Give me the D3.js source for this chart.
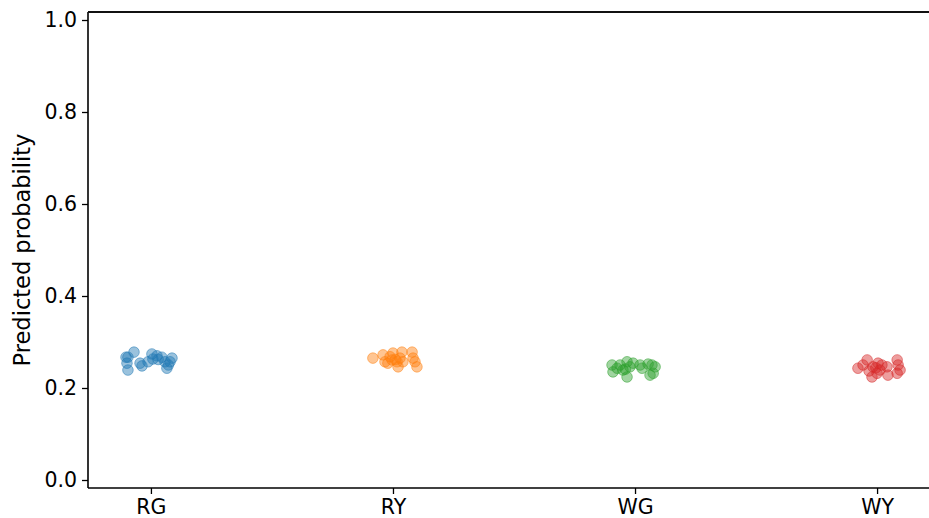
<!DOCTYPE html>
<html><head><meta charset="utf-8">
<script src="https://cdn.jsdelivr.net/npm/d3@7/dist/d3.min.js"></script>
<style>body{margin:0;background:#fff}svg{display:block}text{font-family:"DejaVu Sans",sans-serif}</style>
</head><body>
<script>
const categories = ["RG","RY","WG","WY"];
const colors = ["#1f77b4","#ff7f0e","#2ca02c","#d62728"];
const yTicks = [0.0,0.2,0.4,0.6,0.8,1.0];
// jitter offsets (category units) and predicted probabilities per category
const rgOffsets = [-0.103,-0.099,-0.095,-0.070,-0.045,-0.037,-0.012,0.004,0.008,0.025,0.045,0.058,0.066,0.079,0.087,-0.095,0.030,0.072];
const rgValues  = [0.267,0.254,0.239,0.278,0.254,0.248,0.257,0.274,0.263,0.270,0.267,0.257,0.243,0.257,0.265,0.267,0.262,0.250];
const ryOffsets = [-0.083,-0.041,-0.033,-0.021,-0.004,0.000,0.017,0.021,0.029,0.037,0.041,0.079,0.083,0.091,0.099,0.010,-0.012];
const ryValues  = [0.265,0.272,0.257,0.254,0.261,0.276,0.257,0.246,0.265,0.278,0.257,0.278,0.265,0.257,0.246,0.262,0.268];
const wgOffsets = [-0.095,-0.091,-0.062,-0.050,-0.033,-0.033,-0.021,-0.008,0.021,0.029,0.054,0.062,0.070,0.083,-0.074,-0.040,0.075];
const wgValues  = [0.250,0.235,0.250,0.239,0.257,0.224,0.246,0.254,0.250,0.243,0.252,0.228,0.250,0.246,0.243,0.241,0.232];
const wyOffsets = [-0.079,-0.058,-0.041,-0.021,-0.017,0.000,0.004,0.012,0.041,0.045,0.083,0.087,0.083,0.095,-0.033,0.020,-0.005];
const wyValues  = [0.243,0.250,0.261,0.224,0.246,0.232,0.254,0.239,0.246,0.228,0.261,0.250,0.232,0.239,0.237,0.250,0.244];
const offsets = [rgOffsets, ryOffsets, wgOffsets, wyOffsets];
const values = [rgValues, ryValues, wgValues, wyValues];

const W = 929, H = 518;
const svg = d3.select("body").append("svg").attr("width", W).attr("height", H);
const x = d3.scaleLinear().domain([-0.26, 3.26]).range([88, 940]);
const y = d3.scaleLinear().domain([0, 1]).range([480, 20]);
const plotTop = 12, plotBottom = 488, plotLeft = 88;

// points
categories.forEach((c, i) => {
  const pts = values[i].map((v, k) => ({x: i + offsets[i][k], v}));
  svg.append("g").selectAll("circle").data(pts).join("circle")
    .attr("cx", d => x(d.x)).attr("cy", d => y(d.v)).attr("r", 5.3)
    .attr("fill", colors[i]).attr("fill-opacity", 0.45)
    .attr("stroke", colors[i]).attr("stroke-opacity", 0.5).attr("stroke-width", 1);
});

// y axis
const yAxis = d3.axisLeft(y).tickValues(yTicks).tickFormat(d3.format(".1f")).tickSize(6).tickPadding(5);
const gy = svg.append("g").attr("transform", `translate(${plotLeft},0)`).call(yAxis);
gy.select(".domain").remove();
gy.selectAll(".tick line").attr("stroke", "#000").attr("stroke-width", 1.3);
gy.selectAll("text").attr("font-size", 20.5).attr("fill", "#000");

// x axis
const xAxis = d3.axisBottom(x).tickValues(d3.range(categories.length)).tickFormat(i => categories[i]).tickSize(6).tickPadding(5);
const gx = svg.append("g").attr("transform", `translate(0,${plotBottom})`).call(xAxis);
gx.select(".domain").remove();
gx.selectAll(".tick line").attr("stroke", "#000").attr("stroke-width", 1.3);
gx.selectAll("text").attr("font-size", 20.5).attr("fill", "#000");

// spines
svg.append("line").attr("x1", plotLeft).attr("x2", plotLeft).attr("y1", plotTop).attr("y2", plotBottom).attr("stroke", "#000").attr("stroke-width", 1.6);
svg.append("line").attr("x1", plotLeft).attr("x2", W).attr("y1", plotBottom).attr("y2", plotBottom).attr("stroke", "#000").attr("stroke-width", 1.6);
svg.append("line").attr("x1", plotLeft).attr("x2", W).attr("y1", plotTop).attr("y2", plotTop).attr("stroke", "#111").attr("stroke-width", 2);

// y label
svg.append("text").attr("transform", `translate(30,250) rotate(-90)`)
  .attr("text-anchor", "middle").attr("font-size", 22.5).text("Predicted probability");
</script>
</body></html>
